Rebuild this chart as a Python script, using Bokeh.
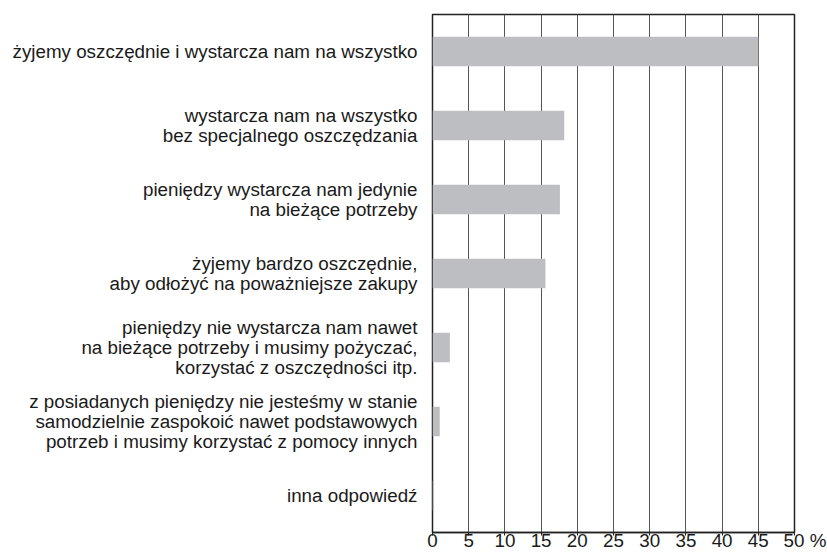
from bokeh.plotting import figure
from bokeh.models import Range1d, FixedTicker, ColumnDataSource
from bokeh.embed import file_html
from bokeh.resources import INLINE

categories = [
    "żyjemy oszczędnie i wystarcza nam na wszystko",
    "wystarcza nam na wszystko\nbez specjalnego oszczędzania",
    "pieniędzy wystarcza nam jedynie\nna bieżące potrzeby",
    "żyjemy bardzo oszczędnie,\naby odłożyć na poważniejsze zakupy",
    "pieniędzy nie wystarcza nam nawet\nna bieżące potrzeby i musimy pożyczać,\nkorzystać z oszczędności itp.",
    "z posiadanych pieniędzy nie jesteśmy w stanie\nsamodzielnie zaspokoić nawet podstawowych\npotrzeb i musimy korzystać z pomocy innych",
    "inna odpowiedź",
]
values = [45, 18.2, 17.6, 15.6, 2.4, 1.0, 0.2]
x_ticks = [0, 5, 10, 15, 20, 25, 30, 35, 40, 45, 50]
unit_label = "%"

n = len(categories)
ys = [n - i - 0.5 for i in range(n)]
src = ColumnDataSource(dict(y=ys, v=values, cat=categories))

FONT = "Liberation Sans"
TXT = "#1a1a1a"
FS = "18.8px"

p = figure(width=827, height=553,
           x_range=Range1d(0, 50), y_range=Range1d(0, n),
           output_backend="svg", toolbar_location=None,
           min_border_left=432, min_border_right=33,
           min_border_top=14, min_border_bottom=18)

p.hbar(y="y", right="v", left=0, height=0.4, source=src,
       fill_color="#bdbec2", line_color=None)

p.yaxis.ticker = FixedTicker(ticks=ys)
p.yaxis.major_label_overrides = {y: c for y, c in zip(ys, categories)}
p.yaxis.major_tick_line_color = None
p.yaxis.major_tick_out = 0
p.yaxis.major_tick_in = 0
p.yaxis.minor_tick_line_color = None
p.yaxis.axis_line_color = None
p.yaxis.major_label_standoff = 15
p.yaxis.major_label_text_font = FONT
p.yaxis.major_label_text_font_size = FS
p.yaxis.major_label_text_color = TXT
p.yaxis.major_label_text_line_height = 0.97
p.ygrid.visible = False

# "50" stays centred on its tick, the unit sign follows it
pad = "\u00a0" * 4
x_labels = {t: str(t) for t in x_ticks}
x_labels[x_ticks[-1]] = pad + str(x_ticks[-1]) + "\u00a0" + unit_label

p.xaxis.ticker = FixedTicker(ticks=x_ticks)
p.xaxis.major_label_overrides = x_labels
p.xaxis.minor_tick_line_color = None
p.xaxis.major_tick_in = 0
p.xaxis.major_tick_out = 3
p.xaxis.major_tick_line_color = "#222222"
p.xaxis.axis_line_color = "#222222"
p.xaxis.axis_line_width = 1.5
p.xaxis.major_label_standoff = -6
p.xaxis.major_label_text_font = FONT
p.xaxis.major_label_text_font_size = FS
p.xaxis.major_label_text_line_height = 0.8
p.xaxis.major_label_text_color = TXT

p.xgrid.ticker = FixedTicker(ticks=x_ticks)
p.xgrid.grid_line_color = "#555555"
p.xgrid.grid_line_width = 1

p.outline_line_color = "#222222"
p.outline_line_width = 1.5
p.outline_line_alpha = 1.0

open("out.html", "w").write(file_html(p, INLINE))
